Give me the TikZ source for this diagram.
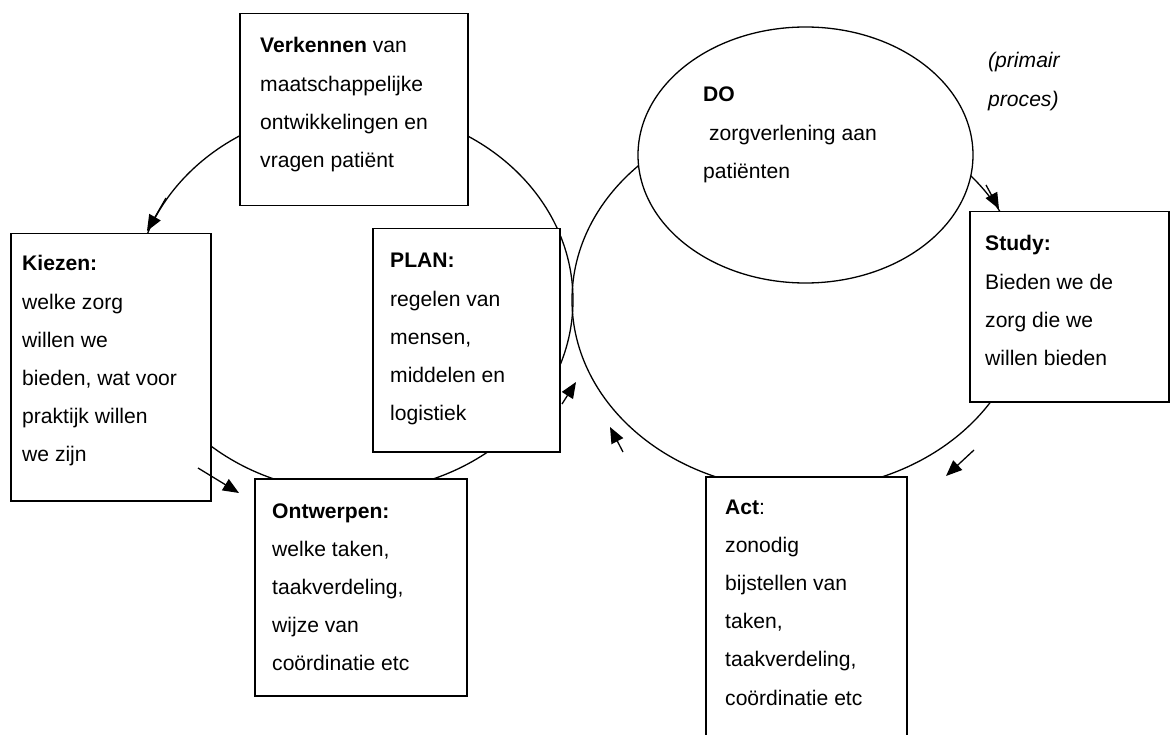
\documentclass[tikz,border=0pt]{standalone}
\usepackage{fontspec}
\setmainfont{Liberation Sans}
\usetikzlibrary{arrows.meta,shapes.geometric}
\newcommand{\txtlines}[1]{\vtop{\baselineskip=38.2pt\lineskiplimit=-100pt\relax #1}}
\begin{document}
\begin{tikzpicture}[x=1pt,y=-1pt,
  box/.style={draw, fill=white, line width=1.5pt, rectangle, anchor=north west, inner sep=0pt},
  ring/.style={draw, line width=1.3pt},
  txt/.style={anchor=base west, inner sep=0pt, font=\fontsize{21.1}{38.2}\selectfont},
  arr/.style={-{Triangle[length=16pt,width=13pt]}, line width=1.3pt}]
\clip (0,0) rectangle (1170,735);
\fill[white] (0,0) rectangle (1170,735);
% cycles
\node[ring, ellipse, minimum width=439pt, minimum height=384pt, inner sep=0pt] (leftcycle) at (353.5,300) {};
\node[ring, ellipse, minimum width=454pt, minimum height=380pt, inner sep=0pt] (rightcycle) at (799,300) {};
\node[ring, ellipse, fill=white, minimum width=335pt, minimum height=256pt, inner sep=0pt] (do) at (805.5,155) {};
% boxes
\node[box, minimum width=228pt, minimum height=192pt] (verk) at (239,13) {};
\node[box, minimum width=200pt, minimum height=267pt] (kiez) at (10,233) {};
\node[box, minimum width=187pt, minimum height=223pt] (plan) at (372,228) {};
\node[box, minimum width=212pt, minimum height=217pt] (ontw) at (254,478) {};
\node[box, minimum width=199pt, minimum height=190pt] (study) at (969,211) {};
\node[box, minimum width=201pt, minimum height=280pt] (act) at (705,476) {};
% texts
\node[txt] (verkt) at (260,53) {\txtlines{\hbox{\textbf{Verkennen} van}\hbox{maatschappelijke}\hbox{ontwikkelingen en}\hbox{vragen patiënt}}};
\node[txt] (kiezt) at (22,271) {\txtlines{\hbox{\textbf{Kiezen:}}\hbox{welke zorg}\hbox{willen we}\hbox{bieden, wat voor}\hbox{praktijk willen}\hbox{we zijn}}};
\node[txt] (plant) at (390,268) {\txtlines{\hbox{\textbf{PLAN:}}\hbox{regelen van}\hbox{mensen,}\hbox{middelen en}\hbox{logistiek}}};
\node[txt] (ontwt) at (272,518) {\txtlines{\hbox{\textbf{Ontwerpen:}}\hbox{welke taken,}\hbox{taakverdeling,}\hbox{wijze van}\hbox{coördinatie etc}}};
\node[txt] (dot) at (703,102) {\txtlines{\hbox{\textbf{DO}}\hbox{\ zorgverlening aan}\hbox{patiënten}}};
\node[txt] (prim) at (988,68) {\txtlines{\hbox{\textit{(primair}}\hbox{\textit{proces)}}}};
\node[txt] (studyt) at (985,251) {\txtlines{\hbox{\textbf{Study:}}\hbox{Bieden we de}\hbox{zorg die we}\hbox{willen bieden}}};
\node[txt] (actt) at (725,514) {\txtlines{\hbox{\textbf{Act}:}\hbox{zonodig}\hbox{bijstellen van}\hbox{taken,}\hbox{taakverdeling,}\hbox{coördinatie etc}}};
% arrows
\coordinate (a1s) at (166,198); \coordinate (a1e) at (147,231);
\coordinate (a2s) at (198,468); \coordinate (a2e) at (239,493);
\coordinate (a3s) at (562,404); \coordinate (a3e) at (576,382);
\coordinate (a4s) at (623,452); \coordinate (a4e) at (610,427);
\coordinate (a5s) at (986,185); \coordinate (a5e) at (999,209);
\coordinate (a6s) at (974,450); \coordinate (a6e) at (946,476);
\draw[arr] (a1s) -- (a1e);
\draw[arr] (a2s) -- (a2e);
\draw[arr] (a3s) -- (a3e);
\draw[arr] (a4s) -- (a4e);
\draw[arr] (a5s) -- (a5e);
\draw[arr] (a6s) -- (a6e);
\end{tikzpicture}
\end{document}
